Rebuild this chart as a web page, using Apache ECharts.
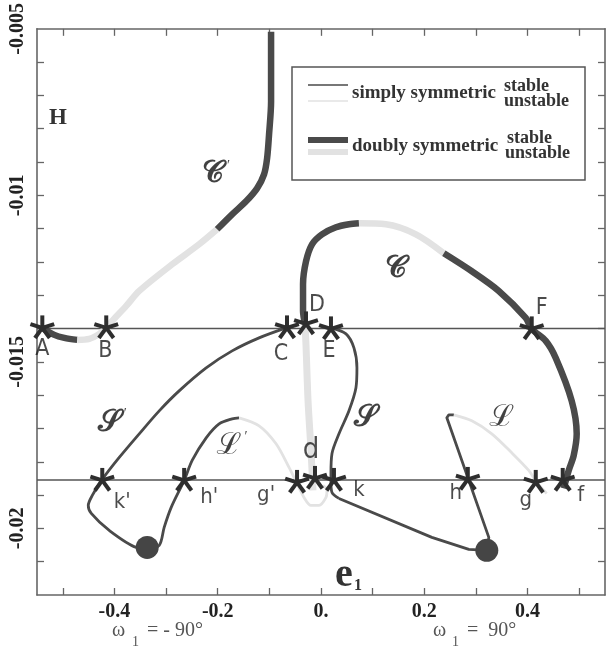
<!DOCTYPE html>
<html><head><meta charset="utf-8">
<script src="https://cdn.jsdelivr.net/npm/echarts@6/dist/echarts.min.js"></script>
<style>html,body{margin:0;padding:0;background:#fff}#c{width:606px;height:649px}</style>
</head><body><div id="c"></div>
<script>
// ---- axes ----
const xMin = -0.55, xMax = 0.55, yMin = -0.022, yMax = -0.005;
const xTicks = [-0.5,-0.4,-0.3,-0.2,-0.1,0,0.1,0.2,0.3,0.4,0.5];
const xLabels = [-0.4,-0.2,0,0.2,0.4];
const yTicks = [-0.021,-0.020,-0.019,-0.018,-0.017,-0.016,-0.015,-0.014,-0.013,-0.012,-0.011,-0.010,-0.009,-0.008,-0.007,-0.006];
const yLabels = [-0.02,-0.015,-0.01,-0.005];
// ---- reference levels (horizontal lines) ----
const upperLevel = -0.0140;
const lowerLevel = -0.01855;
// ---- curve C' (doubly symmetric) ----
const cPrimeStableA = [[-0.5397,-0.01398],[-0.5164,-0.01419],[-0.4971,-0.01428],[-0.4720,-0.01434]];
const cPrimeUnstable = [[-0.4720,-0.01434],[-0.4487,-0.01431],[-0.4294,-0.01416],[-0.4159,-0.01398],[-0.4043,-0.01377],[-0.3772,-0.01332],[-0.3520,-0.01287],[-0.2882,-0.01207],[-0.2360,-0.01147],[-0.2012,-0.01102]];
const cPrimeStableB = [[-0.2012,-0.01102],[-0.1721,-0.01057],[-0.1451,-0.01018],[-0.1238,-0.00979],[-0.1103,-0.00937],[-0.1044,-0.00889],[-0.1006,-0.00817],[-0.0967,-0.00719],[-0.0967,-0.00620],[-0.0967,-0.00509]];
// ---- curve C (doubly symmetric) ----
const cUnstableLow = [[-0.0309,-0.01386],[-0.0290,-0.01452],[-0.0251,-0.01617],[-0.0193,-0.01767],[-0.0155,-0.01886]];
const cStableLeft = [[-0.0309,-0.01386],[-0.0348,-0.01347],[-0.0348,-0.01267],[-0.0290,-0.01198],[-0.0174,-0.01147],[0.0019,-0.01117],[0.0290,-0.01096],[0.0542,-0.01087],[0.0735,-0.01084]];
const cUnstableTop = [[0.0735,-0.01084],[0.1257,-0.01087],[0.1838,-0.01117],[0.2379,-0.01174]];
const cStableRight = [[0.2379,-0.01174],[0.2921,-0.01228],[0.3443,-0.01287],[0.3965,-0.01368],[0.4081,-0.01401],[0.4352,-0.01437],[0.4545,-0.01488],[0.4855,-0.01617],[0.4952,-0.01716],[0.4894,-0.01781],[0.4797,-0.01826],[0.4700,-0.01880]];
// ---- curves S', L' (simply symmetric) ----
const sPrimeStable = [[-0.0677,-0.01398],[-0.1199,-0.01428],[-0.1721,-0.01467],[-0.2224,-0.01518],[-0.2747,-0.01587],[-0.3133,-0.01647],[-0.3520,-0.01716],[-0.3907,-0.01787],[-0.4236,-0.01853],[-0.4429,-0.01901],[-0.4507,-0.01931],[-0.4449,-0.01955],[-0.4101,-0.02006],[-0.3578,-0.02057],[-0.3366,-0.02060],[-0.3133,-0.02051],[-0.3037,-0.01997],[-0.2901,-0.01937],[-0.2650,-0.01856],[-0.2495,-0.01796],[-0.2224,-0.01728],[-0.1973,-0.01686],[-0.1721,-0.01671],[-0.1586,-0.01668]];
const lPrimeUnstable = [[-0.1586,-0.01668],[-0.1199,-0.01692],[-0.0870,-0.01746],[-0.0619,-0.01817],[-0.0484,-0.01859],[-0.0329,-0.01907],[-0.0193,-0.01931],[-0.0039,-0.01931],[0.0097,-0.01907],[0.0116,-0.01886],[0.0039,-0.01871]];
// ---- curves S, L (simply symmetric) ----
const sStableCurve = [[0.0193,-0.01398],[0.0484,-0.01416],[0.0638,-0.01458],[0.0696,-0.01518],[0.0677,-0.01578],[0.0542,-0.01647],[0.0348,-0.01716],[0.0213,-0.01775],[0.0193,-0.01835],[0.0193,-0.01862],[0.0213,-0.01892],[0.0348,-0.01910]];
const sStableStraight = [[0.0348,-0.01910],[0.2147,-0.02027],[0.2863,-0.02063],[0.3211,-0.02066],[0.3250,-0.02027],[0.2437,-0.01668],[0.2476,-0.01659],[0.2573,-0.01659]];
const lUnstable = [[0.2573,-0.01659],[0.2921,-0.01677],[0.3308,-0.01716],[0.3694,-0.01773],[0.4023,-0.01826],[0.4178,-0.01862],[0.4371,-0.01895]];
// ---- bifurcation points (stars) ----
const starPoints = [[-0.5397,-0.01398],[-0.4159,-0.01398],[-0.0658,-0.01398],[-0.0290,-0.01386],[0.0193,-0.01401],[0.4081,-0.01401],
  [-0.4236,-0.01856],[-0.2650,-0.01856],[-0.0464,-0.01862],[-0.0116,-0.01850],[0.0251,-0.01856],[0.2843,-0.01853],[0.4159,-0.01862],[0.4681,-0.01856]];
// ---- end points (dots) ----
const dotPoints = [[-0.3366,-0.02057],[0.3211,-0.02066]];
// ---- point names and their label anchors ----
const pointNames = ['A','B','C','D','E','F',"k'","h'","g'",'d','k','h','g','f'];
const pointLabelPos = [[-0.5397,-0.01461],[-0.4178,-0.01467],[-0.0774,-0.01476],[-0.0077,-0.01329],[0.0155,-0.01467],[0.4275,-0.01338],
  [-0.3849,-0.01922],[-0.2166,-0.01907],[-0.1064,-0.01901],[-0.0193,-0.01766],[0.0735,-0.01886],[0.2611,-0.01895],[0.3965,-0.01916],[0.5029,-0.01901]];
// ---- curve names ----
const curveNames = ['𝒞','𝒞','𝒮','ℒ','𝒮','ℒ'];
const curvePrimes = [true,false,true,true,false,false];
const curveLabelPos = [[-0.2031,-0.00937],[0.1451,-0.01222],[-0.4043,-0.01683],[-0.1721,-0.01752],[0.0870,-0.01668],[0.3501,-0.01668]];

const DARK = '#4a4a4a', LIGHT = '#e2e2e2';
const THICK = 6.5, THIN = 2.8;
function seg(data, color, width, smooth) {
  return {type:'line', data: data, showSymbol:false, symbol:'none', smooth: smooth, silent:true,
    lineStyle:{color: color, width: width, cap:'butt', join:'round'}, z:3};
}
const armAngles = [-90,-18,-162,54,126].map(a => a*Math.PI/180);

const option = {
  animation:false,
  backgroundColor:'#fff',
  grid:{left:37, right:1, top:27, bottom:54},
  xAxis:[
    {type:'value', min:xMin, max:xMax, position:'bottom',
     axisLine:{show:true, onZero:false, lineStyle:{color:'#666', width:1.6}},
     axisTick:{show:true, inside:true, length:7, customValues:xTicks, lineStyle:{color:'#666', width:1.3}},
     axisLabel:{show:true, customValues:xLabels, margin:7, color:'#222', fontFamily:"'Liberation Serif',serif", fontWeight:'bold', fontSize:20,
       formatter:v => (Math.abs(v) < 1e-9 ? '0.' : String(+v.toFixed(2)))},
     splitLine:{show:false}},
    {type:'value', min:xMin, max:xMax, position:'top',
     axisLine:{show:true, onZero:false, lineStyle:{color:'#666', width:1.6}},
     axisTick:{show:true, inside:true, length:7, customValues:xTicks, lineStyle:{color:'#666', width:1.3}},
     axisLabel:{show:false}, splitLine:{show:false}}
  ],
  yAxis:[
    {type:'value', min:yMin, max:yMax, position:'left',
     axisLine:{show:true, onZero:false, lineStyle:{color:'#666', width:1.6}},
     axisTick:{show:true, inside:true, length:7, customValues:yTicks, lineStyle:{color:'#666', width:1.3}},
     axisLabel:{show:true, customValues:yLabels, rotate:90, margin:9, color:'#222', fontFamily:"'Liberation Serif',serif", fontWeight:'bold', fontSize:20,
       formatter:v => String(+v.toFixed(3))},
     splitLine:{show:false}},
    {type:'value', min:yMin, max:yMax, position:'right',
     axisLine:{show:true, onZero:false, lineStyle:{color:'#666', width:1.6}},
     axisTick:{show:true, inside:true, length:7, customValues:yTicks, lineStyle:{color:'#666', width:1.3}},
     axisLabel:{show:false}, splitLine:{show:false}}
  ],
  series:[
    {type:'line', data:[[xMin,upperLevel],[xMax,upperLevel]], showSymbol:false, symbol:'none', silent:true, lineStyle:{color:'#555', width:1.5}, z:2},
    {type:'line', data:[[xMin,lowerLevel],[xMax,lowerLevel]], showSymbol:false, symbol:'none', silent:true, lineStyle:{color:'#555', width:1.5}, z:2},
    seg(cPrimeStableA, DARK, THICK, 0.3),
    seg(cPrimeUnstable, LIGHT, THICK, 0.3),
    seg(cPrimeStableB, DARK, THICK, 0.3),
    seg(cUnstableLow, LIGHT, THICK+0.5, 0.3),
    seg(cStableLeft, DARK, THICK, 0.3),
    seg(cUnstableTop, LIGHT, THICK, 0.3),
    seg(cStableRight, DARK, THICK, 0.3),
    seg(sPrimeStable, DARK, THIN, 0.3),
    seg(lPrimeUnstable, LIGHT, THIN, 0.3),
    seg(sStableCurve, DARK, THIN, 0.3),
    seg(sStableStraight, DARK, THIN, false),
    seg(lUnstable, LIGHT, THIN, 0.3),
    {type:'scatter', data:dotPoints, symbol:'circle', symbolSize:23, silent:true, itemStyle:{color:'#454545', opacity:1}, z:5},
    {type:'custom', coordinateSystem:'cartesian2d', data:starPoints, silent:true, z:6,
     renderItem:function(params, api){
       const p = api.coord([api.value(0), api.value(1)]);
       return {type:'group', children: armAngles.map(a => ({type:'line',
         shape:{x1:p[0], y1:p[1], x2:p[0]+12.5*Math.cos(a), y2:p[1]+12.5*Math.sin(a)},
         style:{stroke:'#2e2e2e', lineWidth:4}}))};
     }},
    {type:'scatter', symbolSize:1, silent:true, itemStyle:{color:'rgba(0,0,0,0)'}, z:7,
     data: pointNames.map((n,i) => ({name:n, value:pointLabelPos[i],
       label:{fontSize: n === 'd' ? 29 : (n === n.toLowerCase() ? 22 : 23)}})),
     label:{show:true, position:'inside', formatter:'{b}', color:'#1e1e1e', fontWeight:'normal',
       fontFamily:"'Liberation Sans Narrow','DejaVu Sans Condensed','Liberation Sans',sans-serif"}},
    {type:'scatter', symbolSize:1, silent:true, itemStyle:{color:'rgba(0,0,0,0)'}, z:7,
     data: curveNames.map((n,i) => ({name:n, value:curveLabelPos[i]})),
     label:{show:true, position:'inside', color:'#111',
       formatter: p => '{s|' + p.name + '}' + (curvePrimes[p.dataIndex] ? '{p|′}' : ''),
       rich:{
         s:{fontSize:30, fontWeight:'bold', color:'#111', fontFamily:"'DejaVu Serif','Noto Sans','Liberation Serif',serif"},
         p:{fontSize:14, color:'#111', verticalAlign:'top', padding:[0,0,10,3], fontFamily:"'Liberation Serif',serif"}
       }}}
  ],
  graphic:[
    {type:'text', style:{text:'H', x:58, y:118, align:'center', verticalAlign:'middle', font:"bold 23px 'Liberation Serif',serif", fill:'#333'}},
    {type:'text', style:{text:'e', x:344, y:576, align:'center', verticalAlign:'middle', font:"bold 40px 'Liberation Serif',serif", fill:'#333'}},
    {type:'text', style:{text:'1', x:358, y:586, align:'center', verticalAlign:'middle', font:"bold 16px 'Liberation Serif',serif", fill:'#333'}},
    {type:'text', style:{text:'ω', x:112, y:631, align:'left', verticalAlign:'middle', font:"20px 'Liberation Serif',serif", fill:'#555'}},
    {type:'text', style:{text:'1', x:132, y:642, align:'left', verticalAlign:'middle', font:"14px 'Liberation Serif',serif", fill:'#555'}},
    {type:'text', style:{text:'= - 90°', x:147, y:631, align:'left', verticalAlign:'middle', font:"20px 'Liberation Serif',serif", fill:'#555'}},
    {type:'text', style:{text:'ω', x:433, y:631, align:'left', verticalAlign:'middle', font:"20px 'Liberation Serif',serif", fill:'#555'}},
    {type:'text', style:{text:'1', x:452, y:642, align:'left', verticalAlign:'middle', font:"14px 'Liberation Serif',serif", fill:'#555'}},
    {type:'text', style:{text:'=  90°', x:467, y:631, align:'left', verticalAlign:'middle', font:"20px 'Liberation Serif',serif", fill:'#555'}},
    // legend
    {type:'rect', shape:{x:292, y:67, width:293, height:113}, style:{fill:'#fff', stroke:'#555', lineWidth:1.5}, z:10},
    {type:'line', shape:{x1:308, y1:85, x2:348, y2:85}, style:{stroke:'#4a4a4a', lineWidth:1.5}, z:11},
    {type:'line', shape:{x1:308, y1:101, x2:348, y2:101}, style:{stroke:'#e2e2e2', lineWidth:1.5}, z:11},
    {type:'line', shape:{x1:308, y1:140, x2:348, y2:140}, style:{stroke:'#4a4a4a', lineWidth:6}, z:11},
    {type:'line', shape:{x1:308, y1:152, x2:348, y2:152}, style:{stroke:'#e2e2e2', lineWidth:6}, z:11},
    {type:'text', style:{text:'simply symmetric', x:352, y:93, align:'left', verticalAlign:'middle', font:"bold 19px 'Liberation Serif',serif", fill:'#333'}, z:11},
    {type:'text', style:{text:'stable', x:504, y:86, align:'left', verticalAlign:'middle', font:"bold 18px 'Liberation Serif',serif", fill:'#333'}, z:11},
    {type:'text', style:{text:'unstable', x:504, y:101, align:'left', verticalAlign:'middle', font:"bold 18px 'Liberation Serif',serif", fill:'#333'}, z:11},
    {type:'text', style:{text:'doubly symmetric', x:352, y:146, align:'left', verticalAlign:'middle', font:"bold 19px 'Liberation Serif',serif", fill:'#333'}, z:11},
    {type:'text', style:{text:'stable', x:507, y:138, align:'left', verticalAlign:'middle', font:"bold 18px 'Liberation Serif',serif", fill:'#333'}, z:11},
    {type:'text', style:{text:'unstable', x:505, y:153, align:'left', verticalAlign:'middle', font:"bold 18px 'Liberation Serif',serif", fill:'#333'}, z:11}
  ]
};
const chart = echarts.init(document.getElementById('c'), null, {renderer:'canvas'});
chart.setOption(option);
</script></body></html>
